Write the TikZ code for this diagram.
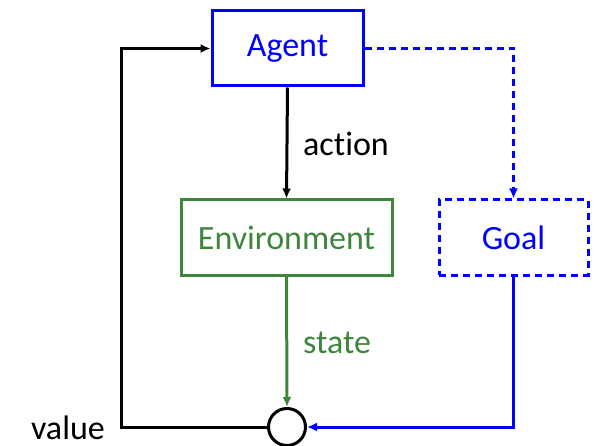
\documentclass[tikz,border=0pt]{standalone}
\usepackage{fontspec}
\setmainfont{Carlito}[Ligatures={NoCommon}]
\usetikzlibrary{arrows.meta}
\definecolor{envgreen}{RGB}{62,134,62}
\definecolor{pureblue}{RGB}{0,0,255}
\begin{document}
\begin{tikzpicture}[x=1pt,y=-1pt,
  lw/.style={line width=3pt},
  boxstyle/.style={lw, draw, minimum height=75pt, inner sep=0pt, font=\fontsize{34}{40}\selectfont},
  lbl/.style={font=\fontsize{34}{40}\selectfont, inner sep=0pt},
  tip/.style={-{Latex[length=10pt,width=9pt]}},
  dashpat/.style={dash pattern=on 7pt off 5pt}
]
\useasboundingbox (0,0) rectangle (596,446);
\node[boxstyle, pureblue, text=pureblue, minimum width=151pt] (agent) at (287.5,48.5) {Agent};
\node[boxstyle, envgreen, text=envgreen, minimum width=211pt] (env) at (286.5,237.5) {Environment};
\node[boxstyle, pureblue, text=pureblue, dashpat, minimum width=149pt] (goal) at (513.5,237.5) {Goal};
\node[lw, draw, circle, minimum size=37pt, inner sep=0pt] (sum) at (287,427) {};
\coordinate (lc) at (121,427);
\coordinate (lt) at (121,48.5);
\coordinate (rt) at (513.5,48.5);
\coordinate (rb) at (513.5,427);
\node[lbl, anchor=base west] (action) at (303,156) {action};
\node[lbl, anchor=base west, text=envgreen] (state) at (303,353) {state};
\node[lbl, anchor=base east] (value) at (105,439) {value};
\draw[lw, tip] (agent.south) -- (env.north);
\draw[lw, tip, envgreen] (env.south) -- (sum.north);
\draw[lw, tip] (sum.west) -- (lc) -- (lt) -- (agent.west);
\draw[lw, tip, pureblue, dashpat] (agent.east) -- (rt) -- (goal.north);
\draw[lw, tip, pureblue] (goal.south) -- (rb) -- (sum.east);
\end{tikzpicture}
\end{document}
